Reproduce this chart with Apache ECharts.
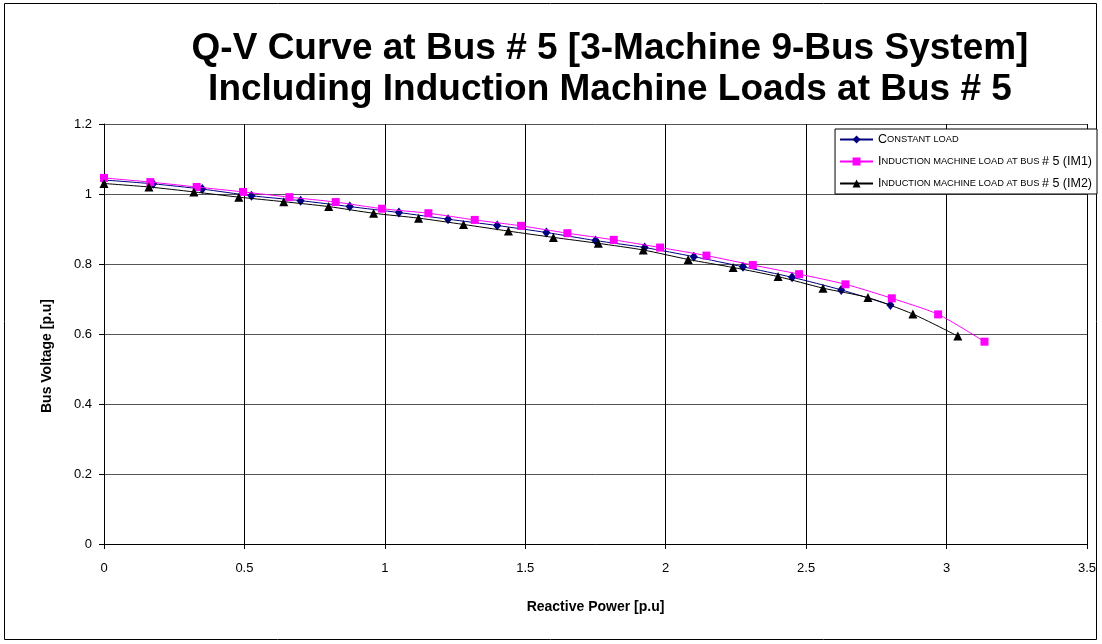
<!DOCTYPE html>
<html>
<head>
<meta charset="utf-8">
<title>Q-V Curve at Bus # 5</title>
<script src="https://cdn.jsdelivr.net/npm/echarts@6/dist/echarts.min.js"></script>
<style>
  html, body { margin: 0; padding: 0; background: #fff; }
  #chart { width: 1102px; height: 644px; }
</style>
</head>
<body>
<div id="chart"></div>
<script>
// Reactive power Q [p.u] and bus voltage V [p.u] for each load model
const constQ = [0, 0.175, 0.35, 0.525, 0.7, 0.875, 1.05, 1.225, 1.4, 1.575, 1.75, 1.925, 2.1, 2.275, 2.45, 2.625, 2.8];
const constV = [1.04, 1.029, 1.014, 0.995, 0.981, 0.964, 0.947, 0.928, 0.910, 0.890, 0.867, 0.847, 0.821, 0.792, 0.762, 0.726, 0.683];

const im1Q = [0, 0.165, 0.33, 0.495, 0.66, 0.825, 0.99, 1.155, 1.32, 1.485, 1.65, 1.815, 1.98, 2.145, 2.31, 2.475, 2.64, 2.805, 2.97, 3.135];
const im1V = [1.046, 1.034, 1.02, 1.006, 0.991, 0.977, 0.958, 0.945, 0.926, 0.909, 0.888, 0.869, 0.847, 0.824, 0.797, 0.771, 0.742, 0.702, 0.656, 0.578];

const im2Q = [0, 0.16, 0.32, 0.48, 0.64, 0.8, 0.96, 1.12, 1.28, 1.44, 1.6, 1.76, 1.92, 2.08, 2.24, 2.4, 2.56, 2.72, 2.88, 3.04];
const im2V = [1.03, 1.02, 1.006, 0.991, 0.978, 0.964, 0.945, 0.931, 0.913, 0.894, 0.876, 0.859, 0.84, 0.813, 0.790, 0.764, 0.731, 0.704, 0.657, 0.594];

const seriesNames = [
  'Constant load',
  'Induction machine load at bus # 5 (IM1)',
  'Induction machine load at bus # 5 (IM2)'
];

const titleLines = [
  'Q-V Curve at Bus # 5 [3-Machine 9-Bus System]',
  'Including Induction Machine Loads at Bus # 5'
];

const FONT = '"Liberation Sans", Arial, sans-serif';

function pairs(xs, ys) {
  return xs.map((x, i) => [x, ys[i]]);
}

// Legend entries are set in small capitals: lowercase letters become smaller uppercase
function smallCaps(name) {
  let out = '';
  let run = '';
  let runSmall = null;
  const flush = () => {
    if (run) out += '{' + (runSmall ? 's' : 'b') + '|' + run + '}';
    run = '';
  };
  for (const ch of name) {
    const isSmall = /[a-z]/.test(ch) ? true : (ch === ' ' ? runSmall : false);
    if (runSmall !== null && isSmall !== runSmall) flush();
    runSmall = isSmall;
    run += isSmall ? ch.toUpperCase() : ch;
  }
  flush();
  return out;
}

const chart = echarts.init(document.getElementById('chart'), null, { renderer: 'canvas' });

chart.setOption({
  animation: false,
  backgroundColor: '#fff',
  title: {
    text: titleLines.join('\n'),
    left: 605,
    top: 23,
    textAlign: 'center',
    textStyle: {
      fontFamily: FONT,
      fontSize: 37,
      fontWeight: 'bold',
      color: '#000',
      lineHeight: 41
    }
  },
  legend: {
    orient: 'vertical',
    right: 5,
    top: 129,
    padding: [4, 5, 4, 4],
    itemWidth: 33,
    itemHeight: 10,
    itemGap: 9,
    backgroundColor: '#fff',
    borderColor: '#000',
    borderWidth: 1,
    borderRadius: 0,
    data: seriesNames,
    formatter: name => smallCaps(name),
    textStyle: {
      color: '#000',
      fontFamily: FONT,
      rich: {
        b: { fontSize: 12.5, fontFamily: FONT, color: '#000' },
        s: { fontSize: 9.3, fontFamily: FONT, color: '#000' }
      }
    }
  },
  grid: {
    left: 104,
    right: 15,
    top: 124,
    bottom: 100,
    containLabel: false
  },
  xAxis: {
    type: 'value',
    min: 0,
    max: 3.5,
    interval: 0.5,
    name: 'Reactive Power [p.u]',
    nameLocation: 'middle',
    nameGap: 56,
    nameTextStyle: { fontFamily: FONT, fontSize: 14, fontWeight: 'bold', color: '#000' },
    axisLine: { show: true, onZero: false, lineStyle: { color: '#000', width: 1 } },
    axisTick: { show: true, inside: false, length: 5, lineStyle: { color: '#000' } },
    axisLabel: { color: '#000', fontFamily: FONT, fontSize: 13, margin: 18 },
    splitLine: { show: true, lineStyle: { color: '#000', width: 1 } }
  },
  yAxis: {
    type: 'value',
    min: 0,
    max: 1.2,
    interval: 0.2,
    axisLine: { show: true, onZero: false, lineStyle: { color: '#000', width: 1 } },
    axisTick: { show: true, inside: false, length: 5, lineStyle: { color: '#000' } },
    axisLabel: { color: '#000', fontFamily: FONT, fontSize: 13, margin: 12 },
    splitLine: { show: true, lineStyle: { color: '#555', width: 1 } }
  },
  series: [
    {
      name: seriesNames[0],
      type: 'line',
      data: pairs(constQ, constV),
      smooth: 0.25,
      symbol: 'diamond',
      symbolSize: [8, 10],
      color: '#000080',
      lineStyle: { width: 1, color: '#000080' },
      itemStyle: { color: '#000080' },
      z: 3
    },
    {
      name: seriesNames[1],
      type: 'line',
      data: pairs(im1Q, im1V),
      smooth: 0.25,
      symbol: 'rect',
      symbolSize: 8,
      color: '#ff00ff',
      lineStyle: { width: 1, color: '#ff00ff' },
      itemStyle: { color: '#ff00ff' },
      z: 4
    },
    {
      name: seriesNames[2],
      type: 'line',
      data: pairs(im2Q, im2V),
      smooth: 0.25,
      symbol: 'triangle',
      symbolSize: 9,
      color: '#000',
      lineStyle: { width: 1, color: '#000' },
      itemStyle: { color: '#000' },
      z: 5
    }
  ],
  graphic: [
    {
      type: 'rect',
      silent: true,
      z: -10,
      shape: { x: 4.5, y: 3.5, width: 1092, height: 636 },
      style: { fill: null, stroke: '#000', lineWidth: 1 }
    },
    {
      type: 'text',
      silent: true,
      x: 47,
      y: 356,
      rotation: Math.PI / 2,
      style: {
        text: 'Bus Voltage [p.u]',
        fontFamily: FONT,
        fontSize: 14,
        fontWeight: 'bold',
        fill: '#000',
        align: 'center',
        verticalAlign: 'middle'
      }
    }
  ]
});
</script>
</body>
</html>
